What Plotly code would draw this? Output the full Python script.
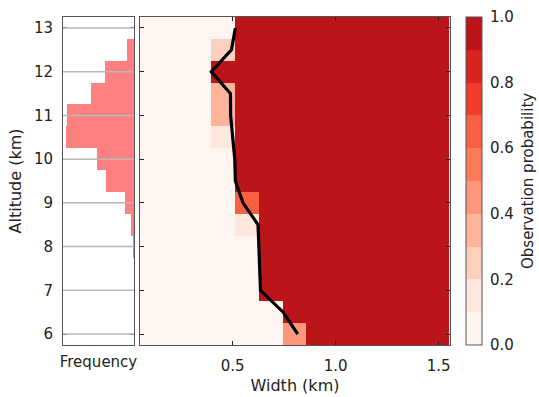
import plotly.graph_objects as go

# ---------------- data ----------------
altitudes = [6.0, 6.5, 7.0, 7.5, 8.0, 8.5, 9.0, 9.5, 10.0, 10.5, 11.0, 11.5, 12.0, 12.5, 13.0]
width_bins = [0.108, 0.223, 0.338, 0.454, 0.569, 0.685, 0.800, 0.915, 1.031, 1.146, 1.262, 1.377, 1.492]

L, R = 0.02, 0.98
prob = [
    [L, L, L, L, L, L, 0.45, R, R, R, R, R, R],   # 6.0
    [L, L, L, L, L, L, R, R, R, R, R, R, R],      # 6.5
    [L, L, L, L, L, R, R, R, R, R, R, R, R],      # 7.0
    [L, L, L, L, L, R, R, R, R, R, R, R, R],      # 7.5
    [L, L, L, L, L, R, R, R, R, R, R, R, R],      # 8.0
    [L, L, L, L, 0.15, R, R, R, R, R, R, R, R],   # 8.5
    [L, L, L, L, 0.65, R, R, R, R, R, R, R, R],   # 9.0
    [L, L, L, L, R, R, R, R, R, R, R, R, R],      # 9.5
    [L, L, L, L, R, R, R, R, R, R, R, R, R],      # 10.0
    [L, L, L, 0.15, R, R, R, R, R, R, R, R, R],   # 10.5
    [L, L, L, 0.35, R, R, R, R, R, R, R, R, R],   # 11.0
    [L, L, L, 0.35, R, R, R, R, R, R, R, R, R],   # 11.5
    [L, L, L, 0.95, R, R, R, R, R, R, R, R, R],   # 12.0
    [L, L, L, 0.25, R, R, R, R, R, R, R, R, R],   # 12.5
    [L, L, L, L, R, R, R, R, R, R, R, R, R],      # 13.0
]

median_width = [0.816, 0.745, 0.635, 0.631, 0.627, 0.623, 0.550, 0.513, 0.510, 0.500,
                0.490, 0.489, 0.396, 0.494, 0.513]

hist_alt = [8.0, 8.5, 9.0, 9.5, 10.0, 10.5, 11.0, 11.5, 12.0, 12.5]
hist_freq = [0.003, 0.009, 0.030, 0.095, 0.126, 0.234, 0.230, 0.149, 0.100, 0.023]

alt_ticks = [6, 7, 8, 9, 10, 11, 12, 13]
width_ticks = [0.5, 1.0, 1.5]
cbar_ticks = [0.0, 0.2, 0.4, 0.6, 0.8, 1.0]

level_colors = ["#fff5f0", "#fee8de", "#fdd0bd", "#fcb49a", "#fc9879",
                "#fb7b5b", "#f85f43", "#f03c2c", "#d7241f", "#bb151a"]

# ---------------- figure ----------------
n = len(level_colors)
cscale = []
for i, c in enumerate(level_colors):
    cscale.append([i / n, c])
    cscale.append([(i + 1) / n, c])

FONT = "DejaVu Sans"
FRAME = "#555555"
TXT = "#222222"
PLOT_W = 387  # px width of the plotting region (539 - 63 - 89)

fig = go.Figure()

fig.add_trace(go.Bar(
    x=hist_freq, y=hist_alt, orientation="h", width=0.5,
    marker=dict(color="#ff8080", line=dict(width=0)),
    xaxis="x", yaxis="y", showlegend=False,
))

fig.add_trace(go.Heatmap(
    x=width_bins, y=altitudes, z=prob, zmin=0, zmax=1,
    colorscale=cscale, xaxis="x2", yaxis="y2",
    colorbar=dict(
        x=(466 - 63) / PLOT_W, xanchor="left",
        y=0.5, yanchor="middle", len=1, lenmode="fraction",
        xpad=0, ypad=0,
        thickness=16, outlinecolor=FRAME, outlinewidth=1,
        tickvals=cbar_ticks, ticktext=[f"{v:.1f}" for v in cbar_ticks],
        ticks="outside", ticklen=5, tickcolor="rgba(0,0,0,0)",
        tickfont=dict(family=FONT, size=15, color=TXT),
    ),
))

fig.add_trace(go.Scatter(
    x=median_width, y=altitudes, mode="lines",
    line=dict(color="black", width=3.2),
    xaxis="x2", yaxis="y2", showlegend=False,
))

for t in alt_ticks:
    fig.add_shape(type="line", xref="x domain", yref="y", x0=0, x1=1, y0=t, y1=t,
                  layer="above", line=dict(color="#b8b8b8", width=1.5))

fig.add_annotation(text="Observation probability", xref="paper", yref="paper",
                   x=(528 - 63) / PLOT_W, y=0.5, xanchor="center", yanchor="middle",
                   textangle=-90, showarrow=False,
                   font=dict(family=FONT, size=15, color=TXT))

common = dict(showline=True, linecolor=FRAME, linewidth=1, mirror="ticks",
              ticklen=4, tickcolor=TXT, zeroline=False,
              tickfont=dict(family=FONT, size=15, color=TXT))

fig.update_layout(
    width=539, height=397,
    margin=dict(l=63, r=89, t=17, b=52, autoexpand=False),
    paper_bgcolor="white", plot_bgcolor="white",
    font=dict(family=FONT, size=15, color=TXT),
    bargap=0,
    xaxis=dict(domain=[0, 71 / PLOT_W], range=[0.245, 0], showticklabels=False,
               showgrid=False, anchor="y", ticks="",
               title=dict(text="Frequency", font=dict(family=FONT, size=15), standoff=11),
               **common),
    yaxis=dict(domain=[0, 1], range=[5.75, 13.25], tickvals=alt_ticks, ticks="inside",
               showgrid=False, anchor="x", ticklabelstandoff=6,
               title=dict(text="Altitude (km)", font=dict(family=FONT, size=16), standoff=8),
               **common),
    xaxis2=dict(domain=[77 / PLOT_W, 1], range=[0.05, 1.555], tickvals=width_ticks, ticks="inside",
                ticktext=[f"{v:.1f}" for v in width_ticks], showgrid=False, anchor="y2",
                ticklabelstandoff=7,
                title=dict(text="Width (km)", font=dict(family=FONT, size=16), standoff=5),
                **common),
    yaxis2=dict(domain=[0, 1], range=[5.75, 13.25], tickvals=alt_ticks, ticks="inside",
                showticklabels=False, showgrid=False, anchor="x2", **common),
)

fig.write_html("out.html")
